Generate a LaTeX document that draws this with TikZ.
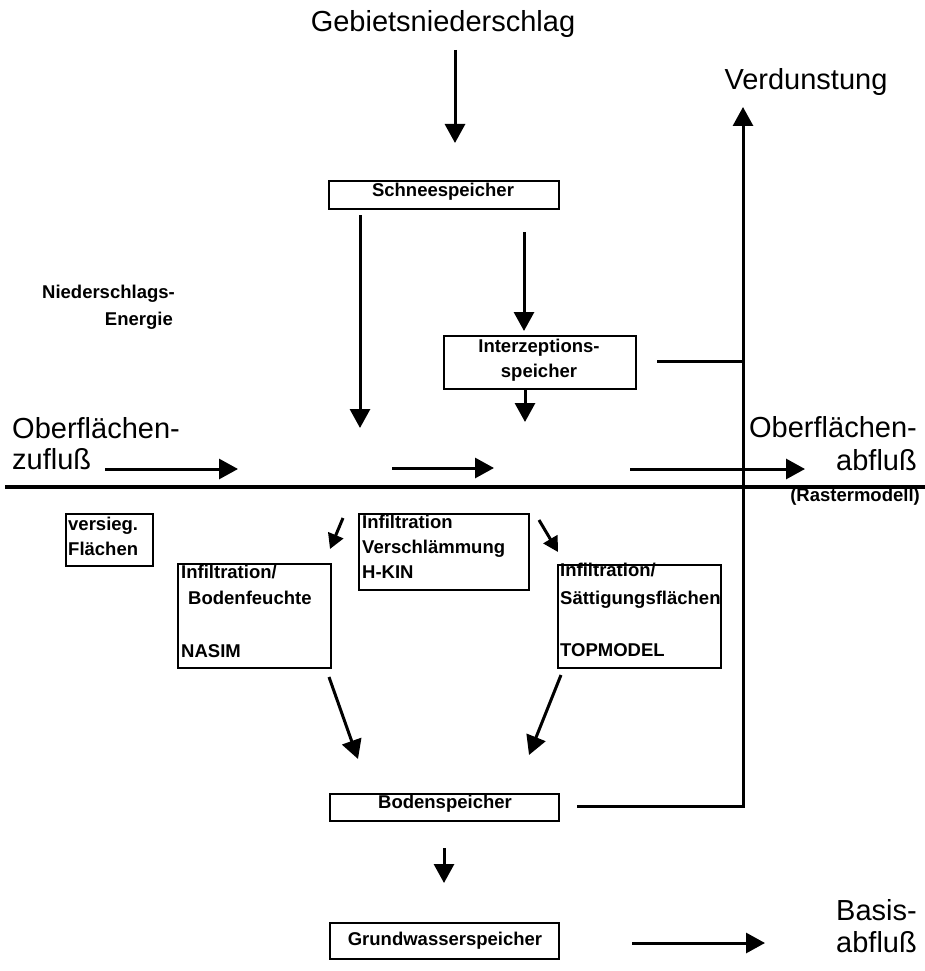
\documentclass[tikz,border=0pt]{standalone}
\usepackage{fontspec}
\setmainfont{Liberation Sans}
\usetikzlibrary{arrows.meta}

\begin{document}
\begin{tikzpicture}[x=1pt, y=-1pt,
  biglbl/.style={font=\fontsize{29}{33}\selectfont, inner sep=0pt},
  smalltxt/.style={font=\bfseries\fontsize{18.5}{22}\selectfont, inner sep=0pt},
  store/.style={draw, line width=2pt, inner sep=0pt, anchor=north west},
  flow/.style={line width=3pt, -{Triangle[length=19pt,width=20pt]}},
  shortflow/.style={line width=3pt, -{Triangle[length=15pt,width=16pt]}},
  plainline/.style={line width=3pt},
]
\useasboundingbox (0,0) rectangle (925,971);

% ---------- headings and side labels ----------
\node[biglbl, anchor=base] (gebiet) at (443,32) {Gebietsniederschlag};
\node[biglbl, anchor=base] (verd) at (806,90) {Verdunstung};
\node[biglbl, anchor=base west] (ozu1) at (12,438) {Oberflächen-};
\node[biglbl, anchor=base west] (ozu2) at (12,469) {zufluß};
\node[biglbl, anchor=base east] (oab1) at (917,437) {Oberflächen-};
\node[biglbl, anchor=base east] (oab2) at (917,470) {abfluß};
\node[smalltxt, anchor=base east] (raster) at (920,501) {(Rastermodell)};
\node[smalltxt, anchor=base east] (nse1) at (175,298) {Niederschlags-};
\node[smalltxt, anchor=base east] (nse2) at (173,325) {Energie};
\node[biglbl, anchor=base west] (basis1) at (836,920) {Basis-};
\node[biglbl, anchor=base west] (basis2) at (836,952) {abfluß};

% ---------- storage boxes ----------
\node[store, minimum width=230pt, minimum height=28pt] (schnee) at (328,180) {};
\node[smalltxt, anchor=base] (schneetxt) at (443,196) {Schneespeicher};

\node[store, minimum width=192pt, minimum height=53pt] (interz) at (443,335) {};
\node[smalltxt, anchor=base] (interz1) at (539,352) {Interzeptions-};
\node[smalltxt, anchor=base] (interz2) at (539,377) {speicher};

\node[store, minimum width=87pt, minimum height=52pt] (versieg) at (65,513) {};
\node[smalltxt, anchor=base west] (versieg1) at (68,530) {versieg.};
\node[smalltxt, anchor=base west] (versieg2) at (68,555) {Flächen};

\node[store, minimum width=170pt, minimum height=76pt] (hkin) at (358,513) {};
\node[smalltxt, anchor=base west] (hkin1) at (362,528) {Infiltration};
\node[smalltxt, anchor=base west] (hkin2) at (362,553) {Verschlämmung};
\node[smalltxt, anchor=base west] (hkin3) at (362,578) {H-KIN};

\node[store, minimum width=153pt, minimum height=104pt] (nasim) at (177,563) {};
\node[smalltxt, anchor=base west] (nasim1) at (181,578) {Infiltration/};
\node[smalltxt, anchor=base west] (nasim2) at (188,604) {Bodenfeuchte};
\node[smalltxt, anchor=base west] (nasim3) at (181,657) {NASIM};

\node[store, minimum width=163pt, minimum height=103pt] (topm) at (557,564) {};
\node[smalltxt, anchor=base west] (topm1) at (560,576) {Infiltration/};
\node[smalltxt, anchor=base west] (topm2) at (560,604) {Sättigungsflächen};
\node[smalltxt, anchor=base west] (topm3) at (560,656) {TOPMODEL};

\node[store, minimum width=229pt, minimum height=27pt] (boden) at (329,793) {};
\node[smalltxt, anchor=base] (bodentxt) at (445,808) {Bodenspeicher};

\node[store, minimum width=229pt, minimum height=36pt] (grund) at (329,922) {};
\node[smalltxt, anchor=base] (grundtxt) at (445,945) {Grundwasserspeicher};

% ---------- end points of the flows ----------
\coordinate (gA) at (455,50);   \coordinate (gB) at (455,143);
\coordinate (sA) at (360,215);  \coordinate (sB) at (360,428);
\coordinate (iA) at (524,232);  \coordinate (iB) at (524,331);
\coordinate (dA) at (525,390);  \coordinate (dB) at (525,422);
\coordinate (eA) at (657,361);  \coordinate (eB) at (743,361);
\coordinate (bA) at (577,806);  \coordinate (vTop) at (743,107);
\coordinate (mA) at (5,487);    \coordinate (mB) at (925,487);
\coordinate (zA) at (105,469);  \coordinate (zB) at (238,469);
\coordinate (cA) at (392,468);  \coordinate (cB) at (494,468);
\coordinate (rA) at (630,469);  \coordinate (rB) at (805,469);
\coordinate (lA) at (343,518);  \coordinate (lB) at (330,549);
\coordinate (kA) at (539,520);  \coordinate (kB) at (558,552);
\coordinate (nA) at (329,677);  \coordinate (nB) at (358,759);
\coordinate (tA) at (561,675);  \coordinate (tB) at (529,755);
\coordinate (uA) at (444,848);  \coordinate (uB) at (444,883);
\coordinate (qA) at (632,943);  \coordinate (qB) at (765,943);

% ---------- flows ----------
\draw[flow] (gA) -- (gB);
\draw[flow] (sA) -- (sB);
\draw[flow] (iA) -- (iB);
\draw[flow] (dA) -- (dB);
\draw[plainline] (eA) -- (eB);
\draw[flow, line join=miter] (bA) -| (vTop);
\draw[line width=4.5pt] (mA) -- (mB);
\draw[flow] (zA) -- (zB);
\draw[flow] (cA) -- (cB);
\draw[flow] (rA) -- (rB);
\draw[shortflow] (lA) -- (lB);
\draw[shortflow] (kA) -- (kB);
\draw[flow] (nA) -- (nB);
\draw[flow] (tA) -- (tB);
\draw[flow] (uA) -- (uB);
\draw[flow] (qA) -- (qB);
\end{tikzpicture}
\end{document}
